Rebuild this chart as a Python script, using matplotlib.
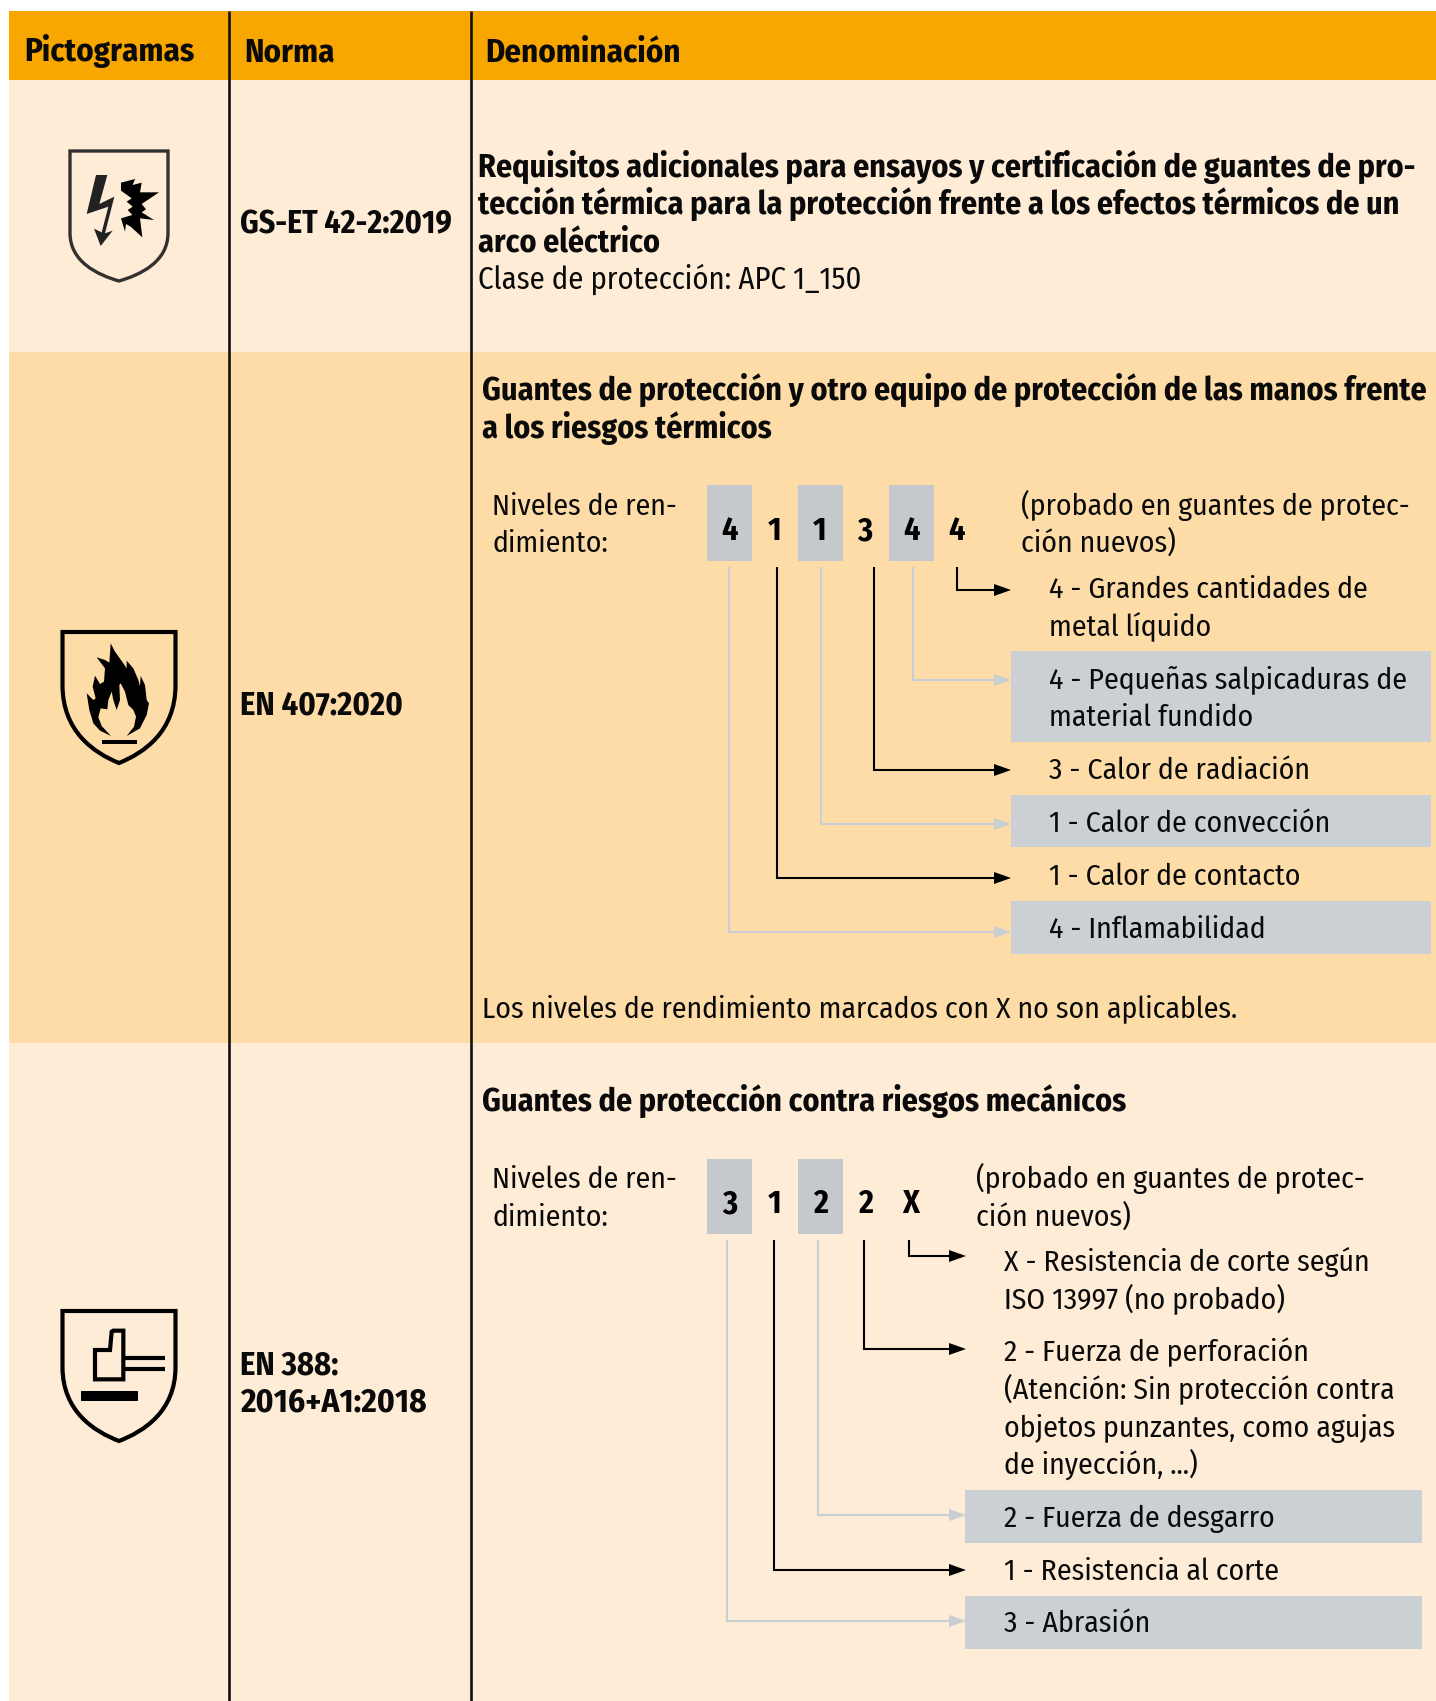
import matplotlib
matplotlib.use('Agg')
import matplotlib.pyplot as plt
from matplotlib.patches import Rectangle, PathPatch, Polygon
from matplotlib.path import Path

FONT = 'Fira Sans Condensed'
ORANGE = '#F8A600'
ROW_A = '#FEECD6'
ROW_B = '#FDDCA8'
BOX = '#C5C8CC'
BOX2 = '#CBD0D4'
LINE_GRAY = '#C9CED3'
BLACK = '#000000'

# Texts of the table
headers = ['Pictogramas', 'Norma', 'Denominación']
row1_title = ['Requisitos adicionales para ensayos y certificación de guantes de pro-',
              'tección térmica para la protección frente a los efectos térmicos de un',
              'arco eléctrico']
row1_class = 'Clase de protección: APC 1_150'
row2_title = ['Guantes de protección y otro equipo de protección de las manos frente',
              'a los riesgos térmicos']
row3_title = 'Guantes de protección contra riesgos mecánicos'
niveles = ['Niveles de ren-', 'dimiento:']
probado = ['(probado en guantes de protec-', 'ción nuevos)']
note = 'Los niveles de rendimiento marcados con X no son aplicables.'

# Performance levels
row2_levels = ['4', '1', '1', '3', '4', '4']
row3_levels = ['3', '1', '2', '2', 'X']
row2_items = [('4 - Grandes cantidades de', 'metal líquido'),
              ('4 - Pequeñas salpicaduras de', 'material fundido'),
              ('3 - Calor de radiación',),
              ('1 - Calor de convección',),
              ('1 - Calor de contacto',),
              ('4 - Inflamabilidad',)]
row3_items = [('X - Resistencia de corte según', 'ISO 13997 (no probado)'),
              ('2 - Fuerza de perforación', '(Atención: Sin protección contra',
               'objetos punzantes, como agujas', 'de inyección, ...)'),
              ('2 - Fuerza de desgarro',),
              ('1 - Resistencia al corte',),
              ('3 - Abrasión',)]

W, H = 1436, 1701
fig = plt.figure(figsize=(W / 100, H / 100), dpi=100)
ax = fig.add_axes([0, 0, 1, 1])
ax.set_xlim(0, W)
ax.set_ylim(H, 0)
ax.axis('off')


def txt(x, y, s, bold=False, size=None):
    # y is the middle of the capitals, so the baseline sits 11 px lower
    if size is None:
        size = 23.05 if bold else 21.45
    ax.text(x, y + 11, s, family=FONT, weight='bold' if bold else 'normal',
            fontsize=size, ha='left', va='baseline', color='#0a0a0a', zorder=5)


def rect(x0, y0, x1, y1, color, z=1):
    ax.add_patch(Rectangle((x0, y0), x1 - x0, y1 - y0, fc=color, ec='none', zorder=z))


def connector(x, y0, y1, tip, color):
    ax.plot([x, x, tip - 15], [y0, y1, y1], color=color, lw=1.5, solid_joinstyle='miter',
            solid_capstyle='butt', zorder=3)
    ax.add_patch(Polygon([(tip - 17, y1 - 6), (tip, y1), (tip - 17, y1 + 6)], fc=color, ec='none', zorder=3))


def shield(l, r, t, b, s, lw, color='black'):
    m = (l + r) / 2
    verts = [(l, t), (r, t), (r, s),
             (r, s + (b - s) * 0.6), (m + (r - l) * 0.22, b - (b - s) * 0.13), (m, b),
             (m - (r - l) * 0.22, b - (b - s) * 0.13), (l, s + (b - s) * 0.6), (l, s),
             (l, t)]
    codes = [Path.MOVETO, Path.LINETO, Path.LINETO, Path.CURVE4, Path.CURVE4, Path.CURVE4,
             Path.CURVE4, Path.CURVE4, Path.CURVE4, Path.CLOSEPOLY]
    ax.add_patch(PathPatch(Path(verts, codes), fc='none', ec=color, lw=lw, joinstyle='miter', zorder=4))


# Backgrounds
rect(9, 11, W, 80, ORANGE)
rect(9, 80, W, 352, ROW_A)
rect(9, 352, W, 1043, ROW_B)
rect(9, 1043, W, H, ROW_A)
for x in [228.5, 470.5]:
    ax.plot([x, x], [11, H], color='#111111', lw=1.9, solid_capstyle='butt', zorder=4)

# Header
for x, y, s in zip([24, 244, 485], [50, 50, 51], headers):
    txt(x, y, s, bold=True, size=23.6)

# Row 1
txt(240, 222, 'GS-ET 42-2:2019', bold=True, size=22.9)
for y, s in zip([166, 203, 241], row1_title):
    txt(478, y, s, bold=True)
txt(478, 278, row1_class, size=22)

# Row 2
txt(240, 703, 'EN 407:2020', bold=True, size=23.4)
for y, s in zip([389, 427], row2_title):
    txt(482, y, s, bold=True)
for y, s in zip([504, 541], niveles):
    txt(492, y, s)
for y, s in zip([504, 541], probado):
    txt(1021, y, s)
txt(482, 1006, note)

for x0 in [707, 798, 889]:
    rect(x0, 485, x0 + 45, 561, BOX)
for x, s in zip([729.5, 775, 820, 865, 911, 956], row2_levels):
    ax.text(x, 529 + 11, s, family=FONT, weight='bold', fontsize=23, ha='center', va='baseline', zorder=5)

rect(1011, 651, 1431, 742, BOX2)
rect(1011, 795, 1431, 847, BOX2)
rect(1011, 901, 1431, 954, BOX2)
row2_x = [957, 913, 874, 821, 777, 729]
row2_y = [590, 680, 770, 824, 878, 932]
row2_c = [BLACK, LINE_GRAY, BLACK, LINE_GRAY, BLACK, LINE_GRAY]
for x, y, c in zip(row2_x, row2_y, row2_c):
    connector(x, 567, y, 1011, c)
row2_text_y = [[587, 624], [677, 715], [768], [821], [874], [927]]
for lines, ys in zip(row2_items, row2_text_y):
    for s, y in zip(lines, ys):
        txt(1049, y, s)

# Row 3
txt(240, 1363, 'EN 388:', bold=True, size=23.4)
txt(240, 1400, '2016+A1:2018', bold=True, size=24)
txt(482, 1100, row3_title, bold=True)
for y, s in zip([1177, 1215], niveles):
    txt(492, y, s)
for y, s in zip([1177, 1215], probado):
    txt(976, y, s)

for x0 in [707, 798]:
    rect(x0, 1159, x0 + 45, 1234, BOX)
for x, s in zip([729.5, 775, 820, 865, 911], row3_levels):
    ax.text(x, 1202 + 11, s, family=FONT, weight='bold', fontsize=23, ha='center', va='baseline', zorder=5)

rect(965, 1490, 1422, 1543, BOX2)
rect(965, 1596, 1422, 1649, BOX2)
row3_x = [909, 864, 817.5, 774, 727]
row3_y = [1256, 1349, 1515, 1570, 1621]
row3_c = [BLACK, BLACK, LINE_GRAY, BLACK, LINE_GRAY]
for x, y, c in zip(row3_x, row3_y, row3_c):
    connector(x, 1240, y, 966, c)
row3_text_y = [[1260, 1297], [1350, 1387, 1426, 1463], [1516], [1569], [1621]]
for lines, ys in zip(row3_items, row3_text_y):
    for s, y in zip(lines, ys):
        txt(1003.5, y, s)


def crop(points, ox, oy):
    return [(ox + px / 3, oy + py / 3) for px, py in points]


shield(70, 168, 151, 281, 233, 2.4, '#333030')
bolt = [(288, 525), (322, 525), (298, 612), (343, 590), (315, 700), (338, 692), (302, 738), (282, 686),
        (305, 697), (325, 620), (260, 642)]
burst = [(363, 548), (405, 537), (398, 555), (425, 548), (420, 577), (477, 577), (425, 612), (438, 628),
         (425, 637), (462, 660), (420, 655), (427, 712), (392, 680), (378, 672), (375, 695), (363, 655),
         (397, 645), (383, 630), (398, 620), (380, 605), (395, 595), (363, 572)]
ax.add_patch(Polygon(crop(bolt, 0, 0), fc='#222222', ec='none', zorder=4))
ax.add_patch(Polygon(crop(burst, 0, 0), fc='black', ec='none', zorder=4))

shield(62.5, 175.5, 632, 763, 685, 3.0)
flame = [(243, 378), (210, 362), (190, 340), (178, 300), (170, 250), (190, 270), (197, 265), (188, 230),
         (195, 197), (210, 222), (222, 215), (225, 175), (200, 142), (225, 150), (238, 158), (242, 100),
         (255, 125), (280, 160), (290, 175), (290, 152), (310, 175), (325, 210), (330, 228), (332, 198),
         (345, 225), (350, 270), (357, 280), (350, 315), (330, 355), (290, 378), (312, 350), (318, 320),
         (310, 300), (295, 285), (285, 245), (272, 220), (268, 225), (270, 270), (260, 300), (250, 270),
         (245, 245), (235, 270), (232, 298), (212, 295), (205, 322), (215, 348)]
ax.add_patch(Polygon(crop(flame, 30, 610), fc='black', ec='none', zorder=4))
rect(30 + 216 / 3, 610 + 390 / 3, 30 + 320 / 3, 610 + 403 / 3, 'black', z=4)

shield(62.5, 175.5, 1311, 1441, 1367, 3.0)
thumb = [(195, 180), (240, 180), (245, 125), (250, 122), (280, 122), (280, 268), (195, 268)]
ax.add_patch(Polygon(crop(thumb, 30, 1290), fc='none', ec='black', lw=3.0, joinstyle='miter', zorder=4))
for py in [205, 238]:
    pts = crop([(280, py), (404, py)], 30, 1290)
    ax.plot([pts[0][0], pts[1][0]], [pts[0][1], pts[1][1]], color='black', lw=3.0, solid_capstyle='butt', zorder=4)
rect(30 + 153 / 3, 1290 + 303 / 3, 30 + 324 / 3, 1290 + 332 / 3, 'black', z=4)

fig.savefig('out.png', dpi=100, facecolor='white')
